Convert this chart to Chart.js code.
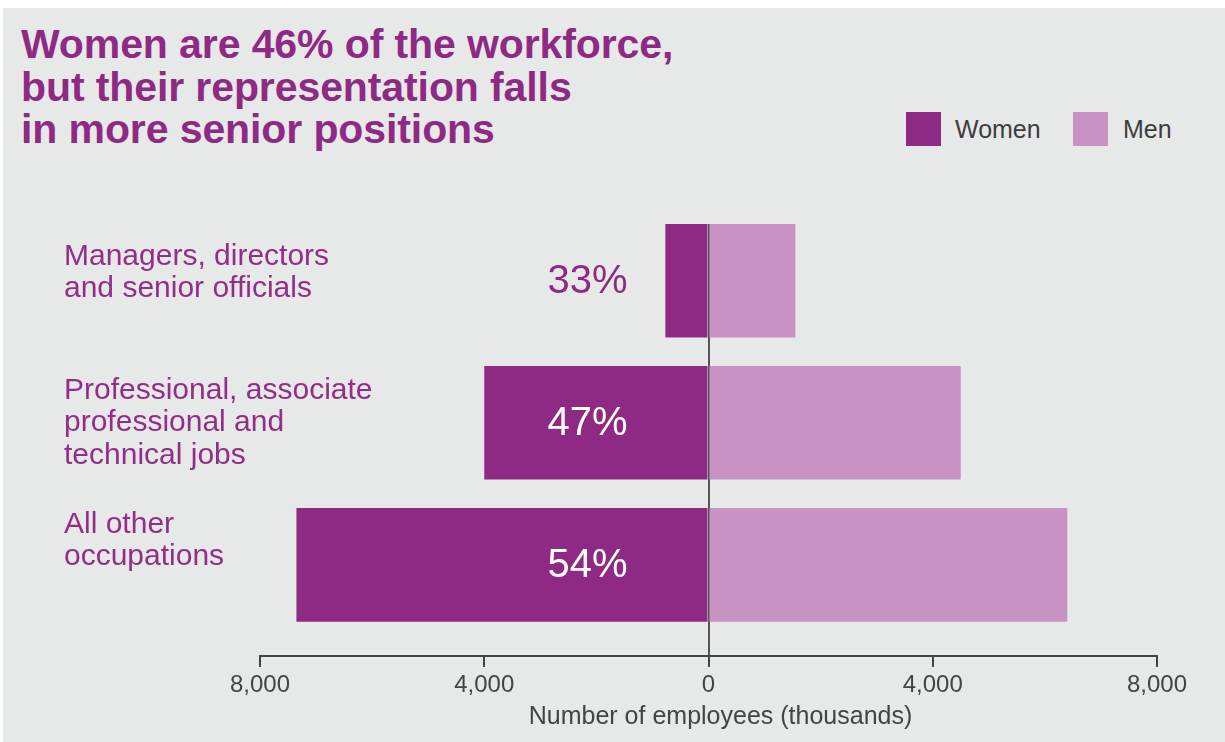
<!DOCTYPE html>
<html><head><meta charset="utf-8">
<script src="https://cdn.jsdelivr.net/npm/chart.js@4"></script>
<style>
html,body{margin:0;padding:0;background:#fff;width:1225px;height:742px;overflow:hidden;}
#panel{position:absolute;left:3px;top:8px;width:1222px;height:734px;background:#e7e9e9;}
#title{position:absolute;left:21px;top:23px;font:bold 41px "Liberation Sans",Arial,sans-serif;line-height:42.5px;color:#8e2a84;letter-spacing:-0.1px;}
.lg{position:absolute;font:25px "Liberation Sans",Arial,sans-serif;color:#3d3d3d;line-height:30px;}
.sw{position:absolute;width:35px;height:34px;}
canvas{position:absolute;left:0;top:0;}
</style></head><body>
<div id="panel"></div>
<div id="title">Women are 46% of the workforce,<br>but their representation falls<br>in more senior positions</div>
<div id="legend"></div>
<canvas id="c" width="1225" height="742"></canvas>
<script>
const categories = [
  ['Managers, directors', 'and senior officials'],
  ['Professional, associate', 'professional and', 'technical jobs'],
  ['All other', 'occupations']
];
const seriesNames = ['Women', 'Men'];
const womenValues = [770, 4000, 7350];   // thousands
const menValues = [1550, 4500, 6400];    // thousands
const shareLabels = ['33%', '47%', '54%'];
const xTickValues = [-8000, -4000, 0, 4000, 8000];
const axisTitle = 'Number of employees (thousands)';

const WOMEN = '#8e2a84';
const MEN = '#c892c4';
const FONT = '"Liberation Sans", Arial, sans-serif';

// HTML legend
const legendSpec = [
  {name: seriesNames[0], color: WOMEN, box: 906, text: 955},
  {name: seriesNames[1], color: MEN, box: 1073, text: 1123}
];
const lg = document.getElementById('legend');
legendSpec.forEach(s => {
  const b = document.createElement('div');
  b.className = 'sw'; b.style.left = s.box + 'px'; b.style.top = '112px'; b.style.background = s.color;
  lg.appendChild(b);
  const t = document.createElement('div');
  t.className = 'lg'; t.style.left = s.text + 'px'; t.style.top = '114px'; t.textContent = s.name;
  lg.appendChild(t);
});

const labelPlugin = {
  id: 'labels',
  afterDraw(chart) {
    const ctx = chart.ctx;
    const xs = chart.scales.x, ys = chart.scales.y;
    ctx.save();
    // category labels (text blocks slightly tighter-spaced than the bars)
    ctx.font = '30px ' + FONT;
    ctx.fillStyle = '#922d88';
    ctx.textAlign = 'left';
    ctx.textBaseline = 'middle';
    categories.forEach((lines, i) => {
      const y0 = ys.getPixelForValue(i * 0.944) - 24.5;
      lines.forEach((ln, j) => ctx.fillText(ln, 64, y0 + j * 32.5));
    });
    // share labels
    ctx.font = '40px ' + FONT;
    ctx.textAlign = 'center';
    const cx = xs.getPixelForValue(0) - 121;
    shareLabels.forEach((s, i) => {
      const yc = ys.getPixelForValue(i);
      const barLeft = xs.getPixelForValue(-womenValues[i]);
      const w = ctx.measureText(s).width;
      ctx.fillStyle = (barLeft < cx - w / 2) ? '#ffffff' : WOMEN;
      ctx.fillText(s, cx, yc + 1);
    });
    // axis title
    ctx.font = '25px ' + FONT;
    ctx.fillStyle = '#444';
    ctx.textAlign = 'center';
    ctx.fillText(axisTitle, xs.getPixelForValue(0) + 12, xs.bottom - 25);
    ctx.restore();
  }
};

new Chart(document.getElementById('c'), {
  type: 'bar',
  data: {
    datasets: [
      {label: seriesNames[0], data: womenValues.map((v, i) => ({x: -v, y: i})), backgroundColor: WOMEN,
       categoryPercentage: 1, barPercentage: 0.8},
      {label: seriesNames[1], data: menValues.map((v, i) => ({x: v, y: i})), backgroundColor: MEN,
       categoryPercentage: 1, barPercentage: 0.8}
    ]
  },
  options: {
    indexAxis: 'y',
    responsive: false,
    animation: false,
    layout: {padding: {left: 260, right: 68, top: 224, bottom: 0}},
    plugins: {legend: {display: false}, tooltip: {enabled: false}},
    scales: {
      y: {
        type: 'linear', reverse: true, min: -0.4, max: 2.642, stacked: true, display: false,
        offset: false, grid: {offset: false},
        afterBuildTicks: s => { s.ticks = categories.map((c, i) => ({value: i})); }
      },
      x: {
        type: 'linear', min: -8000, max: 8000, stacked: true, z: 1,
        afterBuildTicks: s => { s.ticks = xTickValues.map(v => ({value: v})); },
        afterFit: s => { s.height = 86; },
        ticks: {
          callback: v => Math.abs(v).toLocaleString('en-US'),
          color: '#444', font: {family: FONT, size: 24}, padding: 4,
          maxRotation: 0, autoSkip: false
        },
        grid: {
          color: c => (c.tick && c.tick.value === 0) ? '#555555' : 'rgba(0,0,0,0)',
          lineWidth: 2, tickLength: 11, tickColor: '#444', tickWidth: 2
        },
        border: {display: true, color: '#444', width: 2},
        title: {display: false}
      }
    }
  },
  plugins: [labelPlugin]
});
</script>
</body></html>
